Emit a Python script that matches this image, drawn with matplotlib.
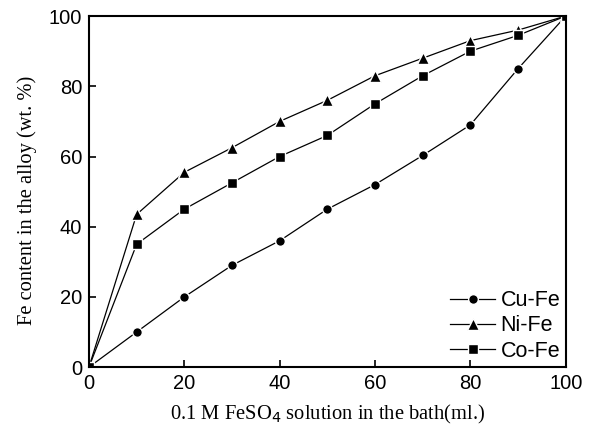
import matplotlib
matplotlib.use("Agg")
import matplotlib.pyplot as plt

x = [0, 10, 20, 30, 40, 50, 60, 70, 80, 90, 100]
cu_fe = [0, 10, 20, 29, 36, 45, 52, 60.3, 69, 85, 100]
ni_fe = [0, 43.5, 55.5, 62.5, 70, 76, 83, 88, 93, 96, 100]
co_fe = [0, 35, 45, 52.5, 60, 66, 75, 83, 90, 94.5, 100]
xticks = [0, 20, 40, 60, 80, 100]
yticks = [0, 20, 40, 60, 80, 100]

fig = plt.figure(figsize=(5.93, 4.34), dpi=100)
ax = fig.add_axes([0.150, 0.154, 0.804, 0.809])

# white marker edge leaves a small gap between line and marker
common = dict(color="black", linewidth=0.9, markeredgecolor="white",
              markeredgewidth=1.0)
ax.plot(x, cu_fe, marker="o", markersize=7, label="Cu-Fe", **common)
ax.plot(x, ni_fe, marker="^", markersize=8.5, label="Ni-Fe", **common)
ax.plot(x, co_fe, marker="s", markersize=6.5, label="Co-Fe", **common)

ax.set_xlim(0, 100)
ax.set_ylim(0, 100)
ax.set_xticks(xticks)
ax.set_yticks(yticks)
ax.tick_params(direction="in", length=5, width=1.2, labelsize=14.5,
               top=False, right=False, pad=5)
for lab in ax.get_xticklabels() + ax.get_yticklabels():
    lab.set_fontfamily("Liberation Sans")
for sp in ax.spines.values():
    sp.set_linewidth(1.5)

ax.set_xlabel("0.1 M FeSO$_4$ solution in the bath(ml.)",
              fontfamily="Liberation Serif", fontsize=14.8, labelpad=7)
ax.set_ylabel("Fe content in the alloy (wt. %)",
              fontfamily="Liberation Serif", fontsize=14.8)
ax.yaxis.set_label_coords(-0.109, 0.475)

leg = ax.legend(loc="lower right", frameon=False, handlelength=2.1,
                prop={"family": "Liberation Sans", "size": 15.5},
                handletextpad=0.25, labelspacing=0.2, borderaxespad=0.0,
                borderpad=0.25)

fig.savefig("out.png", dpi=100)
